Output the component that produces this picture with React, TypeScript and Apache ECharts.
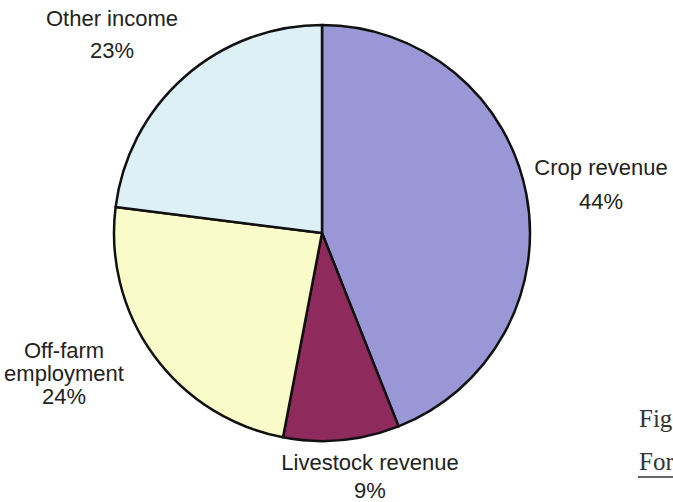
import React, { useEffect, useRef } from "react";
import * as echarts from "echarts";

const categories = ["Crop revenue", "Livestock revenue", "Off-farm employment", "Other income"];
const labelTexts = ["Crop revenue", "Livestock revenue", "Off-farm\nemployment", "Other income"];
const shares = [44, 9, 24, 23];
const colors = ["#9997d6", "#8f2b5c", "#f9fbc8", "#dcf0f5"];
const labelCenters: [number, number][] = [
  [601, 184],
  [370, 476],
  [64, 373],
  [112, 34],
];
const labelLineHeights = [34, 28, 23, 32];

export default function App() {
  const ref = useRef<HTMLDivElement>(null);
  useEffect(() => {
    if (!ref.current) return;
    const chart = echarts.init(ref.current, undefined, { renderer: "svg" });
    chart.setOption({
      animation: false,
      backgroundColor: "#ffffff",
      series: [
        {
          type: "pie",
          center: [322, 233],
          radius: 208,
          startAngle: 90,
          clockwise: true,
          silent: true,
          itemStyle: { borderColor: "#111", borderWidth: 2.5 },
          label: {
            show: true,
            position: "outside",
            alignTo: "none",
            overflow: "none",
            width: 300,
            color: "#222",
            fontFamily: "Liberation Sans, Arial, sans-serif",
            fontSize: 22,
            align: "center",
          },
          labelLine: { show: false },
          labelLayout: (p: any) => ({
            x: labelCenters[p.dataIndex][0],
            y: labelCenters[p.dataIndex][1],
            align: "center",
            verticalAlign: "middle",
          }),
          data: categories.map((c, i) => ({
            name: c,
            value: shares[i],
            itemStyle: { color: colors[i] },
            label: {
              lineHeight: labelLineHeights[i],
              formatter: () => `${labelTexts[i]}\n${shares[i]}%`,
            },
          })),
        },
      ],
      graphic: [
        {
          type: "text",
          x: 639,
          y: 418,
          style: {
            text: "Fig",
            fontFamily: "Liberation Serif, Times New Roman, serif",
            fontSize: 25,
            fill: "#333",
            verticalAlign: "middle",
          },
        },
        {
          type: "text",
          x: 639,
          y: 461,
          style: {
            text: "For",
            fontFamily: "Liberation Serif, Times New Roman, serif",
            fontSize: 25,
            fill: "#333",
            verticalAlign: "middle",
          },
        },
        {
          type: "line",
          shape: { x1: 638, y1: 477, x2: 673, y2: 477 },
          style: { stroke: "#333", lineWidth: 1.5 },
        },
      ],
    });
    return () => chart.dispose();
  }, []);
  return (
    <div
      ref={ref}
      style={{ position: "fixed", left: 0, top: 0, width: 673, height: 502, background: "#fff" }}
    />
  );
}
